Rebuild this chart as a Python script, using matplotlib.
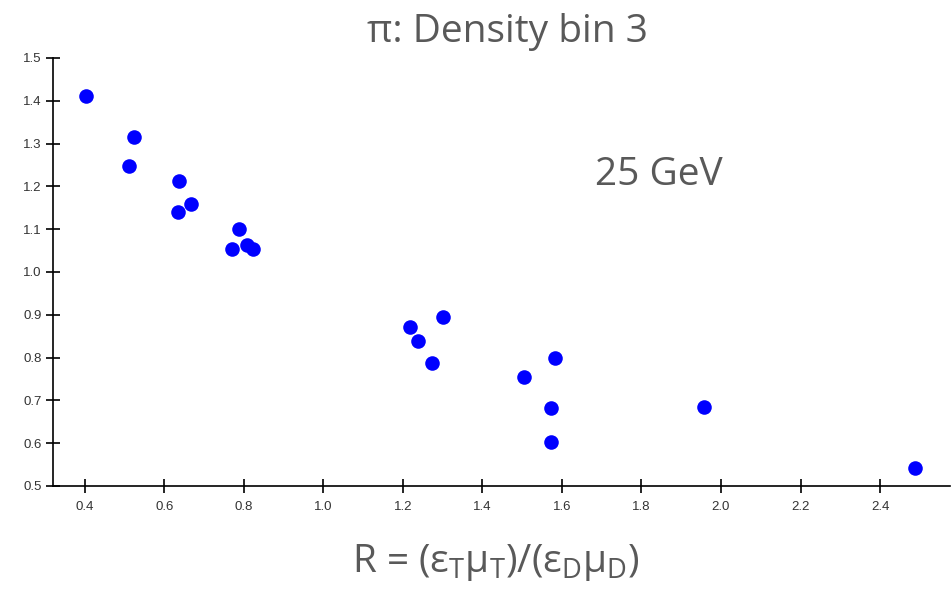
import numpy as np
import matplotlib.pyplot as plt

# ratio R and the y value
r_vals = [0.403, 0.523, 0.511, 0.636, 0.634, 0.667, 0.787, 0.770, 0.808, 0.823,
          1.218, 1.238, 1.301, 1.273, 1.504, 1.582, 1.572, 1.572, 1.957, 2.488]
y_vals = [1.411, 1.315, 1.248, 1.213, 1.140, 1.159, 1.100, 1.054, 1.063, 1.054,
          0.871, 0.839, 0.895, 0.787, 0.755, 0.799, 0.682, 0.603, 0.685, 0.542]
x_ticks = [0.4, 0.6, 0.8, 1.0, 1.2, 1.4, 1.6, 1.8, 2.0, 2.2, 2.4]
y_ticks = [0.5, 0.6, 0.7, 0.8, 0.9, 1.0, 1.1, 1.2, 1.3, 1.4, 1.5]

gray = "#595959"

fig = plt.figure(figsize=(9.53, 5.89), dpi=100)
ax = fig.add_axes([53 / 953, 1 - 486 / 589, 897 / 953, 428 / 589])

ax.scatter(r_vals, y_vals, s=110, color="#0000ff", zorder=3, linewidths=0)

ax.set_xlim(0.32, 2.576)
ax.set_ylim(0.5, 1.5)
ax.set_xticks(x_ticks)
ax.set_xticklabels(["%.1f" % v for v in x_ticks])
ax.set_yticks(y_ticks)
ax.set_yticklabels(["%.1f" % v for v in y_ticks])
for s in ["top", "right"]:
    ax.spines[s].set_visible(False)
for s in ["left", "bottom"]:
    ax.spines[s].set_linewidth(1.2)
ax.tick_params(direction="inout", length=10, width=1.2, labelsize=9.5,
               labelcolor="#333333")
ax.tick_params(axis="x", pad=6)
ax.tick_params(axis="y", pad=3)
for lab in ax.get_xticklabels() + ax.get_yticklabels():
    lab.set_family("Liberation Sans")

fig.text(507 / 953, 1 - 42 / 589, "\u03c0: Density bin 3", ha="center", va="baseline",
         fontsize=28, color=gray, family="Open Sans")
fig.text(659 / 953, 1 - 185 / 589, "25 GeV", ha="center", va="baseline",
         fontsize=28, color=gray, family="Open Sans")
fig.text(496 / 953, 1 - 572 / 589,
         r"R = ($\mathregular{\epsilon_T\mu_T}$)/($\mathregular{\epsilon_D\mu_D}$)",
         ha="center", va="baseline", fontsize=28, color=gray, family="Open Sans")

fig.savefig("out.png", dpi=100)
